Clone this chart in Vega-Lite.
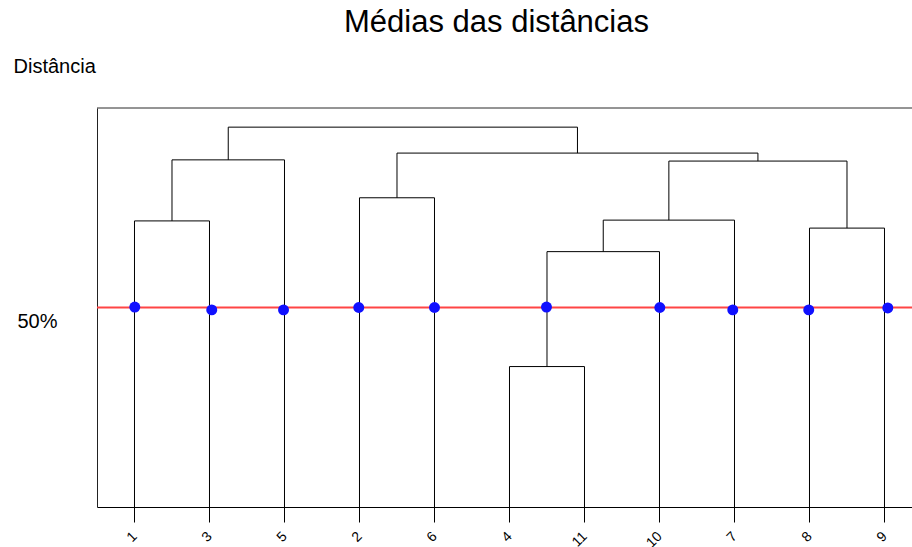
{
  "$schema": "https://vega.github.io/schema/vega-lite/v6.json",
  "autosize": {"type": "none"},
  "padding": {"left": 97, "top": 108, "right": 0, "bottom": 40},
  "width": 815,
  "height": 399,
  "background": "white",
  "config": {
    "view": {"stroke": null},
    "font": "Liberation Sans"
  },
  "title": {
    "text": "Médias das distâncias",
    "font": "Liberation Sans",
    "fontSize": 31,
    "fontWeight": "normal",
    "color": "#000000",
    "anchor": "middle",
    "baseline": "alphabetic",
    "dx": -8,
    "offset": -7
  },
  "datasets": {
    "segments": [
      {"node": "leaf 1", "x": 1, "x2": 1, "y": 0, "y2": 71.7},
      {"node": "leaf 3", "x": 2, "x2": 2, "y": 0, "y2": 71.7},
      {"node": "leaf 5", "x": 3, "x2": 3, "y": 0, "y2": 87.0},
      {"node": "leaf 2", "x": 4, "x2": 4, "y": 0, "y2": 77.5},
      {"node": "leaf 6", "x": 5, "x2": 5, "y": 0, "y2": 77.5},
      {"node": "leaf 4", "x": 6, "x2": 6, "y": 0, "y2": 35.2},
      {"node": "leaf 11", "x": 7, "x2": 7, "y": 0, "y2": 35.2},
      {"node": "leaf 10", "x": 8, "x2": 8, "y": 0, "y2": 64.0},
      {"node": "leaf 7", "x": 9, "x2": 9, "y": 0, "y2": 71.9},
      {"node": "leaf 8", "x": 10, "x2": 10, "y": 0, "y2": 69.9},
      {"node": "leaf 9", "x": 11, "x2": 11, "y": 0, "y2": 69.9},
      {"node": "A", "x": 1, "x2": 2, "y": 71.7, "y2": 71.7},
      {"node": "A up", "x": 1.5, "x2": 1.5, "y": 71.7, "y2": 87.0},
      {"node": "B", "x": 1.5, "x2": 3, "y": 87.0, "y2": 87.0},
      {"node": "B up", "x": 2.25, "x2": 2.25, "y": 87.0, "y2": 95.2},
      {"node": "C", "x": 4, "x2": 5, "y": 77.5, "y2": 77.5},
      {"node": "C up", "x": 4.5, "x2": 4.5, "y": 77.5, "y2": 88.7},
      {"node": "D", "x": 6, "x2": 7, "y": 35.2, "y2": 35.2},
      {"node": "D up", "x": 6.5, "x2": 6.5, "y": 35.2, "y2": 64.0},
      {"node": "E", "x": 6.5, "x2": 8, "y": 64.0, "y2": 64.0},
      {"node": "E up", "x": 7.25, "x2": 7.25, "y": 64.0, "y2": 71.9},
      {"node": "F", "x": 7.25, "x2": 9, "y": 71.9, "y2": 71.9},
      {"node": "F up", "x": 8.125, "x2": 8.125, "y": 71.9, "y2": 86.7},
      {"node": "G", "x": 10, "x2": 11, "y": 69.9, "y2": 69.9},
      {"node": "G up", "x": 10.5, "x2": 10.5, "y": 69.9, "y2": 86.7},
      {"node": "H", "x": 8.125, "x2": 10.5, "y": 86.7, "y2": 86.7},
      {"node": "H up", "x": 9.3125, "x2": 9.3125, "y": 86.7, "y2": 88.7},
      {"node": "I", "x": 4.5, "x2": 9.3125, "y": 88.7, "y2": 88.7},
      {"node": "I up", "x": 6.90625, "x2": 6.90625, "y": 88.7, "y2": 95.2},
      {"node": "J", "x": 2.25, "x2": 6.90625, "y": 95.2, "y2": 95.2}
    ],
    "cuts": [
      {"x": 1.004, "y": 50.1},
      {"x": 2.03, "y": 49.4},
      {"x": 2.987, "y": 49.4},
      {"x": 3.99, "y": 50.0},
      {"x": 5.0, "y": 50.0},
      {"x": 6.493, "y": 50.1},
      {"x": 8.004, "y": 50.0},
      {"x": 8.977, "y": 49.4},
      {"x": 9.99, "y": 49.4},
      {"x": 11.044, "y": 49.9}
    ]
  },
  "layer": [
    {
      "data": {"name": "segments"},
      "mark": {"type": "rule", "color": "#000000", "strokeWidth": 1},
      "encoding": {
        "x": {
          "field": "x",
          "type": "quantitative",
          "scale": {"domain": [0.5, 11.3667], "nice": false, "zero": false},
          "axis": {
            "title": null,
            "grid": false,
            "values": [1, 2, 3, 4, 5, 6, 7, 8, 9, 10, 11],
            "labelExpr": "['1','3','5','2','6','4','11','10','7','8','9'][datum.value - 1]",
            "domainColor": "#000000",
            "tickColor": "#000000",
            "tickSize": 15,
            "labelAngle": -45,
            "labelAlign": "right",
            "labelBaseline": "middle",
            "labelPadding": 12,
            "labelFont": "Liberation Sans",
            "labelFontSize": 14,
            "labelColor": "#000000",
            "labelOverlap": false
          }
        },
        "x2": {"field": "x2"},
        "y": {
          "field": "y",
          "type": "quantitative",
          "scale": {"domain": [0, 100], "nice": false, "zero": false},
          "axis": {
            "title": "Distância",
            "titleAngle": 0,
            "titleAlign": "left",
            "titleBaseline": "alphabetic",
            "titleX": -84,
            "titleY": -36,
            "titleFont": "Liberation Sans",
            "titleFontSize": 20,
            "titleFontWeight": "normal",
            "titleColor": "#000000",
            "grid": false,
            "values": [50],
            "labelExpr": "datum.value + '%'",
            "ticks": false,
            "tickSize": 0,
            "labelPadding": 40,
            "labelOffset": 20,
            "labelBaseline": "alphabetic",
            "labelFont": "Liberation Sans",
            "labelFontSize": 20,
            "labelColor": "#000000",
            "domainColor": "#222222"
          }
        },
        "y2": {"field": "y2"}
      }
    },
    {
      "data": {"values": [{"edge": 100}]},
      "mark": {"type": "rule", "color": "#2a2a2a", "strokeWidth": 1},
      "encoding": {"y": {"field": "edge", "type": "quantitative"}}
    },
    {
      "data": {"values": [{"level": 50}]},
      "mark": {"type": "rule", "color": "#ff4545", "strokeWidth": 2},
      "encoding": {"y": {"field": "level", "type": "quantitative"}}
    },
    {
      "data": {"name": "cuts"},
      "mark": {"type": "point", "shape": "circle", "filled": true, "color": "#1010ff", "size": 120, "opacity": 1},
      "encoding": {
        "x": {"field": "x", "type": "quantitative"},
        "y": {"field": "y", "type": "quantitative"}
      }
    }
  ]
}
